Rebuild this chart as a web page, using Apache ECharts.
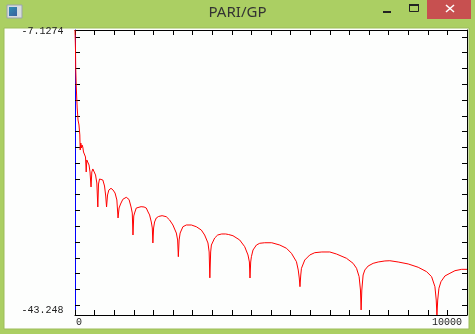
<!DOCTYPE html>
<html>
<head>
<meta charset="utf-8">
<script src="https://cdn.jsdelivr.net/npm/echarts@6/dist/echarts.min.js"></script>
<style>
  html, body { margin: 0; padding: 0; background: #abcf63; }
  #main { width: 475px; height: 334px; }
</style>
</head>
<body>
<div id="main"></div>
<script>
// curve (x from 0 to 10000)
const curveX = [0, 13, 18, 31, 43, 56, 77, 102, 123, 133, 148, 166, 179, 199, 217, 243, 268, 286, 301, 327,
  358, 383, 409, 429, 455, 480, 524, 557, 582, 600, 626, 664, 710, 753, 784, 805, 830, 863, 919, 971,
  1022, 1068, 1098, 1124, 1162, 1221, 1308, 1379, 1430, 1461, 1479, 1499, 1520, 1563, 1609, 1686, 1762, 1818, 1864, 1903,
  1946, 1972, 1987, 2005, 2030, 2074, 2133, 2222, 2329, 2414, 2498, 2585, 2618, 2636, 2656, 2682, 2753, 2840, 2968, 3095,
  3223, 3307, 3392, 3422, 3440, 3461, 3479, 3563, 3640, 3742, 3844, 3920, 4030, 4201, 4329, 4413, 4449, 4464, 4482, 4500,
  4541, 4628, 4712, 4840, 5019, 5223, 5394, 5522, 5649, 5695, 5721, 5739, 5759, 5777, 5861, 5989, 6117, 6296, 6500, 6671,
  6926, 7095, 7182, 7248, 7282, 7299, 7317, 7350, 7394, 7478, 7606, 7734, 7905, 8032, 8244, 8500, 8755, 8970, 9097, 9182,
  9215, 9233, 9253, 9284, 9335, 9437, 9565, 9693, 9864, 10000];
const curveY = [-7.1274, -9.66, -11.94, -14.10, -15.62, -17.01, -18.53, -19.17, -20.43, -22.34, -21.45, -22.08, -21.70, -21.96, -22.59, -22.72, -23.22, -25.12, -23.60, -23.60,
  -24.24, -25.12, -27.02, -25.12, -24.74, -24.62, -25.50, -26.52, -29.56, -26.65, -26.01, -25.88, -26.14, -26.90, -28.17, -29.56, -28.04, -27.41, -27.19, -27.41,
  -27.79, -28.67, -30.95, -29.69, -29.18, -28.58, -28.33, -28.61, -29.56, -30.32, -33.11, -30.70, -30.32, -29.69, -29.56, -29.52, -29.56, -29.69, -30.19, -30.57,
  -31.46, -32.22, -34.12, -32.22, -31.46, -30.95, -30.76, -30.66, -30.79, -31.21, -31.84, -32.86, -33.74, -35.86, -33.74, -32.86, -32.06, -31.84, -31.84, -32.06,
  -32.48, -33.11, -34.12, -35.26, -38.54, -35.26, -34.38, -33.49, -33.11, -32.98, -32.98, -33.05, -33.20, -33.74, -34.59, -35.64, -36.53, -38.56, -36.53, -35.86,
  -35.01, -34.38, -34.16, -34.09, -34.09, -34.38, -34.79, -35.43, -36.49, -37.55, -38.56, -39.66, -38.18, -37.33, -36.28, -35.64, -35.35, -35.26, -35.26, -35.52,
  -36.06, -36.70, -37.33, -38.39, -40.08, -42.61, -40.08, -38.18, -37.54, -37.04, -36.70, -36.53, -36.40, -36.37, -36.53, -36.78, -37.20, -37.76, -38.39, -39.66,
  -41.35, -43.248, -41.35, -39.86, -39.03, -38.30, -37.96, -37.63, -37.46, -37.46];

const xMin = 0, xMax = 10000, xTickStep = 500;
const yMin = -43.248, yMax = -7.1274;
const yTicks = [-42, -40, -38, -36, -34, -32, -30, -28, -26, -24, -22, -20, -18, -16, -14, -12, -10, -8];
const yEndLabels = ['-7.1274', '-43.248'];
const xEndLabels = ['0', '10000'];
const windowTitle = 'PARI/GP';

const chart = echarts.init(document.getElementById('main'), null, { renderer: 'canvas' });

const monoFont = '10px "Liberation Mono", "DejaVu Sans Mono", monospace';
const labelColor = '#222';

const tickAxis = (pos, color) => ({
  type: 'value',
  position: pos,
  axisLine: { show: true, onZero: false, lineStyle: { color: color, width: 1 } },
  axisTick: { show: true, inside: true, length: 5, lineStyle: { color: '#000', width: 1 } },
  axisLabel: { show: false },
  splitLine: { show: false },
});

const option = {
  animation: false,
  backgroundColor: '#abcf63',
  grid: { left: 75, top: 30, width: 392, height: 285, containLabel: false },
  xAxis: [
    Object.assign(tickAxis('bottom', '#000'), { min: xMin, max: xMax, interval: xTickStep }),
    Object.assign(tickAxis('top', '#000'), { min: xMin, max: xMax, interval: xTickStep }),
  ],
  yAxis: [
    (() => {
      const a = tickAxis('left', '#0000ff');
      a.min = yMin; a.max = yMax;
      a.axisTick.customValues = yTicks;
      return a;
    })(),
    (() => {
      const a = tickAxis('right', '#000');
      a.min = yMin; a.max = yMax;
      a.axisTick.customValues = yTicks;
      return a;
    })(),
  ],
  series: [
    {
      type: 'line',
      data: curveX.map((x, i) => [x, curveY[i]]),
      showSymbol: false,
      symbol: 'none',
      clip: true,
      lineStyle: { color: '#ff0000', width: 1 },
      z: 5,
    },
  ],
  graphic: [
    // window content area
    { type: 'rect', z: -10, shape: { x: 4, y: 28, width: 465, height: 301 },
      style: { fill: '#fdfefd', stroke: '#9dbd5a', lineWidth: 1 } },
    // title bar bits
    { type: 'text', z: 10, style: { text: windowTitle, x: 237.5, y: 13, align: 'center', verticalAlign: 'middle',
      font: '15px "Noto Sans", "Open Sans", sans-serif', fill: '#333' } },
    { type: 'rect', z: 10, shape: { x: 7, y: 5, width: 15, height: 13 },
      style: { fill: '#d6dbe0', stroke: '#9aa3ab', lineWidth: 1 } },
    { type: 'rect', z: 11, shape: { x: 9, y: 7, width: 8, height: 9 },
      style: { fill: new echarts.graphic.LinearGradient(0, 0, 1, 1, [
        { offset: 0, color: '#2f8fb0' }, { offset: 1, color: '#3a5fa0' }]) } },
    { type: 'rect', z: 10, shape: { x: 383, y: 11, width: 8, height: 2 }, style: { fill: '#222' } },
    { type: 'rect', z: 10, shape: { x: 409.5, y: 4.5, width: 9, height: 7 },
      style: { fill: 'none', stroke: '#222', lineWidth: 1 } },
    { type: 'rect', z: 10, shape: { x: 409, y: 4, width: 10, height: 2 }, style: { fill: '#222' } },
    { type: 'rect', z: 10, shape: { x: 427, y: 0, width: 44, height: 19 }, style: { fill: '#c75050' } },
    { type: 'line', z: 11, shape: { x1: 446, y1: 5, x2: 454, y2: 12 }, style: { stroke: '#fff', lineWidth: 1.5 } },
    { type: 'line', z: 11, shape: { x1: 454, y1: 5, x2: 446, y2: 12 }, style: { stroke: '#fff', lineWidth: 1.5 } },
    // axis end labels
    { type: 'text', z: 10, style: { text: yEndLabels[0], x: 63.5, y: 31, align: 'right', verticalAlign: 'middle', font: monoFont, fill: labelColor } },
    { type: 'text', z: 10, style: { text: yEndLabels[1], x: 63.5, y: 310.5, align: 'right', verticalAlign: 'middle', font: monoFont, fill: labelColor } },
    { type: 'text', z: 10, style: { text: xEndLabels[0], x: 76, y: 322, align: 'left', verticalAlign: 'middle', font: monoFont, fill: labelColor } },
    { type: 'text', z: 10, style: { text: xEndLabels[1], x: 462, y: 322, align: 'right', verticalAlign: 'middle', font: monoFont, fill: labelColor } },
  ],
};

chart.setOption(option);
</script>
</body>
</html>
